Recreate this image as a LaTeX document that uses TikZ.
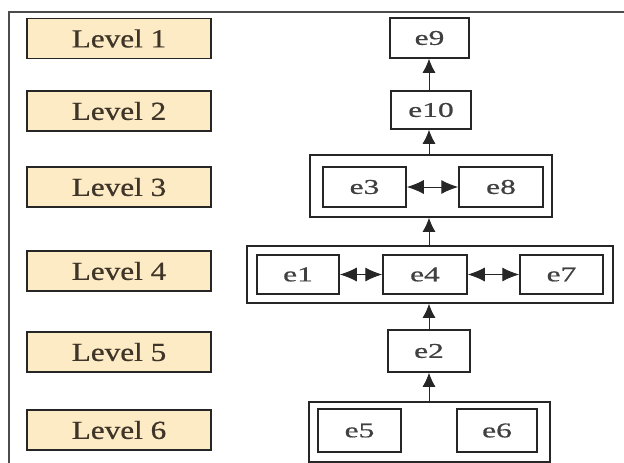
\documentclass[tikz,border=0pt]{standalone}
\usepackage{fontspec}
\setmainfont{Liberation Serif}
\newfontfamily\labelserif{Liberation Serif}[FakeBold=0.6]
\usetikzlibrary{arrows.meta}
\definecolor{levelfill}{HTML}{FDEBC6}
\definecolor{levelink}{HTML}{3E3528}
\definecolor{boxline}{HTML}{262626}
\definecolor{elabel}{HTML}{404040}
\newcommand{\lvtext}[1]{\scalebox{1.2}[1]{\labelserif\fontsize{26}{30}\selectfont #1}}
\newcommand{\eltext}[1]{\scalebox{1.5}[1]{\labelserif\fontsize{21}{24}\selectfont #1}}
\tikzset{
  levelbox/.style={draw=boxline, line width=1.8pt, fill=levelfill, text=levelink,
    minimum width=184pt, minimum height=40pt, inner sep=0pt},
  ebox/.style={draw=boxline, line width=1.5pt, fill=white, text=elabel,
    minimum height=40pt, inner sep=0pt},
  groupbox/.style={draw=boxline, line width=1.6pt, inner sep=0pt},
  uparrow/.style={line width=1pt, draw=boxline, -{Latex[length=14pt,width=13pt]}},
  bothway/.style={line width=1pt, draw=boxline, {Latex[length=17pt,width=14pt]}-{Latex[length=17pt,width=14pt]}},
}
\begin{document}
\begin{tikzpicture}[x=1pt, y=-1pt]
\useasboundingbox (0,0) rectangle (624,463);
% outer frame (left and top edges)
\draw[line width=1.8pt, draw=black!70] (9,470) -- (9,12) -- (630,12);

% level labels
\node[levelbox] (lv1) at (119,38.5) {\lvtext{Level 1}};
\node[levelbox] (lv2) at (119,111)  {\lvtext{Level 2}};
\node[levelbox] (lv3) at (119,187)  {\lvtext{Level 3}};
\node[levelbox] (lv4) at (119,271)  {\lvtext{Level 4}};
\node[levelbox] (lv5) at (119,352)  {\lvtext{Level 5}};
\node[levelbox] (lv6) at (119,430)  {\lvtext{Level 6}};

% group frames
\node[groupbox, minimum width=242pt, minimum height=62pt] (g3) at (431,186) {};
\node[groupbox, minimum width=366pt, minimum height=57pt] (g4) at (430,274.5) {};
\node[groupbox, minimum width=241pt, minimum height=60pt] (g6) at (429.5,432) {};

% elements
\node[ebox, minimum width=79pt] (e9)  at (429.5,38) {\eltext{e9}};
\node[ebox, minimum width=80pt, minimum height=38pt] (e10) at (431,110) {\eltext{e10}};
\node[ebox, minimum width=83pt] (e3)  at (364.5,187) {\eltext{e3}};
\node[ebox, minimum width=84pt] (e8)  at (501,187) {\eltext{e8}};
\node[ebox, minimum width=82pt, minimum height=39pt] (e1) at (298,274.5) {\eltext{e1}};
\node[ebox, minimum width=84pt, minimum height=39pt] (e4) at (425,274.5) {\eltext{e4}};
\node[ebox, minimum width=83pt, minimum height=39pt] (e7) at (561.5,274.5) {\eltext{e7}};
\node[ebox, minimum width=82pt, minimum height=42pt] (e2) at (429,351) {\eltext{e2}};
\node[ebox, minimum width=83pt, minimum height=43pt] (e5) at (359.5,430.5) {\eltext{e5}};
\node[ebox, minimum width=80pt, minimum height=43pt] (e6) at (497,430.5) {\eltext{e6}};

% upward links
\draw[uparrow] (e2.south |- g6.north) -- (e2.south);
\draw[uparrow] (e2.north) -- (e2.north |- g4.south);
\draw[uparrow] (e2.north |- g4.north) -- (e2.north |- g3.south);
\draw[uparrow] (e2.north |- g3.north) -- (e2.north |- e10.south);
\draw[uparrow] (e2.north |- e10.north) -- (e2.north |- e9.south);

% two-way links
\draw[bothway] (e3.east) -- (e8.west);
\draw[bothway] (e1.east) -- (e4.west);
\draw[bothway] (e4.east) -- (e7.west);
\end{tikzpicture}
\end{document}
